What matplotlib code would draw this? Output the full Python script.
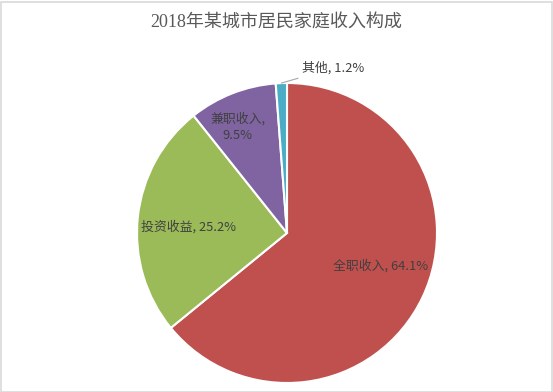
import matplotlib
matplotlib.use("Agg")
import matplotlib.pyplot as plt
import numpy as np

categories = ["全职收入", "投资收益", "兼职收入", "其他"]
values = [64.1, 25.2, 9.5, 1.2]
colors = ["#C0504D", "#9BBB59", "#8064A2", "#4BACC6"]
title = "2018年某城市居民家庭收入构成"

plt.rcParams['font.family'] = ['Noto Sans CJK SC', 'DejaVu Sans']

W, H = 553, 392
fig = plt.figure(figsize=(W / 100, H / 100), dpi=100)
fig.patch.set_facecolor("white")

# border
border = plt.Rectangle((0.5 / W, 0.5 / H), 1 - 2 / W, 1 - 2 / H, transform=fig.transFigure,
                       fill=False, edgecolor="#D9D9D9", linewidth=1.2)
fig.add_artist(border)

cx, cy, r = 287, 233, 150
ax = fig.add_axes([(cx - r) / W, (H - cy - r) / H, 2 * r / W, 2 * r / H])

wedges, _ = ax.pie(values, colors=colors, startangle=90, counterclock=False, radius=1,
                   wedgeprops=dict(edgecolor="white", linewidth=1.5))
ax.set_xlim(-1, 1)
ax.set_ylim(-1, 1)
ax.set_aspect("equal")
ax.axis("off")

fig.text(0.5, 1 - 22 / H, title, ha="center", va="center", fontsize=13, color="#595959",
         family=['Liberation Serif', 'Noto Sans CJK SC'])

tc = "#404040"
fs = 9.3
def mid_angle(w):
    return np.deg2rad((w.theta1 + w.theta2) / 2)

pos = [(0.66, 6), (0.66, 2.5), (0.78, 3.5)]
texts = [f"{categories[0]}, {values[0]}%", f"{categories[1]}, {values[1]}%",
         f"{categories[2]},\n{values[2]}%"]
for w, (rr, off), t in zip(wedges[:3], pos, texts):
    a = mid_angle(w) + np.deg2rad(off)
    ax.text(rr * np.cos(a), rr * np.sin(a), t, ha="center", va="center",
            fontsize=fs, color=tc, linespacing=1.3)

# 其他 with leader line
a = mid_angle(wedges[3])
px, py = np.cos(a), np.sin(a)
ax.annotate(f"{categories[3]}, {values[3]}%", xy=(px * 1.0, py * 1.0),
            xytext=(0.1, 1.1), ha="left", va="center", fontsize=fs, color=tc,
            arrowprops=dict(arrowstyle="-", color="#A6A6A6", lw=0.8, shrinkA=2, shrinkB=0),
            annotation_clip=False)

fig.savefig("out.png", dpi=100)
